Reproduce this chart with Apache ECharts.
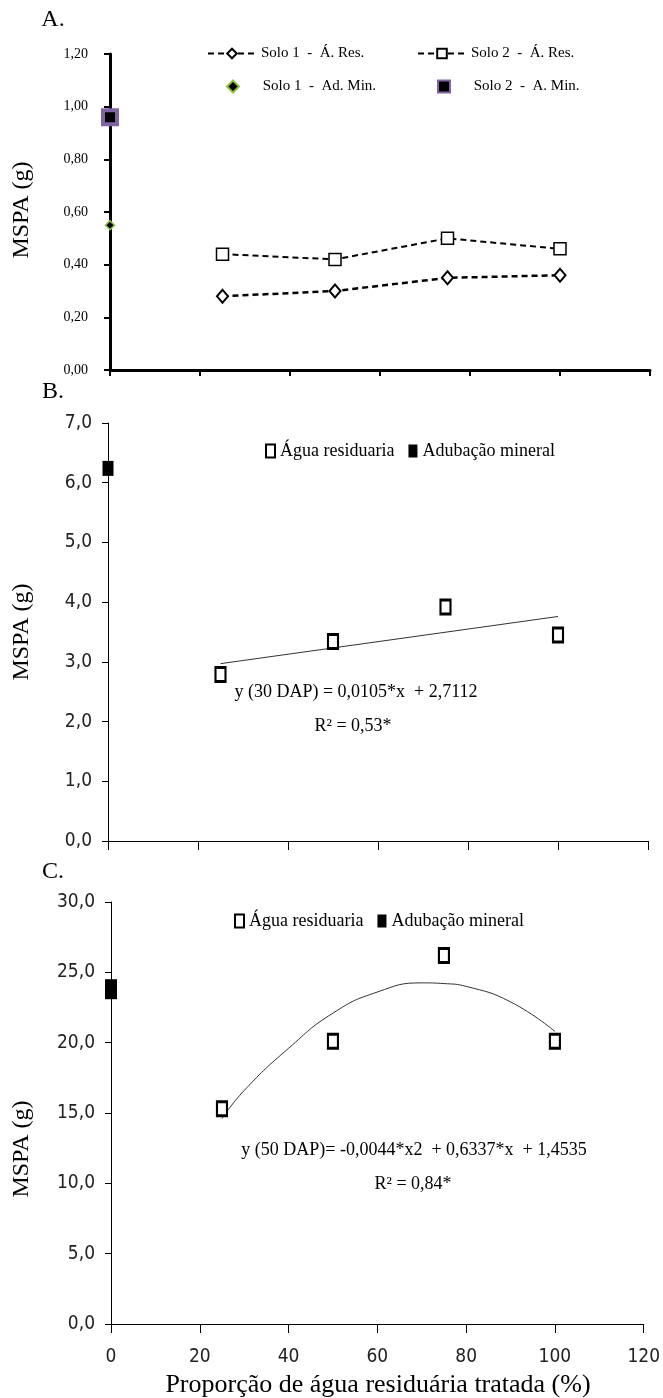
<!DOCTYPE html>
<html>
<head>
<meta charset="utf-8">
<script src="https://cdn.jsdelivr.net/npm/echarts@6/dist/echarts.min.js"></script>
<style>
  html, body { margin: 0; background: #fff; }
  #chart { width: 663px; height: 1398px; }
</style>
</head>
<body>
<div id="chart"></div>
<script>
// doses de agua residuaria (%)
const doses = [25, 50, 75, 100];

// painel A
const solo1Res = [0.28, 0.30, 0.35, 0.36];
const solo2Res = [0.44, 0.42, 0.50, 0.46];
const solo1Min = [[0, 0.55]];
const solo2Min = [[0, 0.96]];

// painel B (30 DAP)
const aguaB = [2.79, 3.34, 3.92, 3.45];
const mineralB = [[0, 6.24]];
const trendBx = [25, 100];
const trendBy = [2.97, 3.76];

// painel C (50 DAP)
const aguaC = [15.3, 20.1, 26.2, 20.1];
const mineralC = [[0, 23.8]];
const trendCx = [25, 30, 40, 50, 60, 70, 75, 80, 90, 100];
const trendCy = [14.6, 16.6, 19.6, 22.1, 23.6, 24.25, 24.2, 24.0, 22.9, 20.8];

const xTicks = [0, 20, 40, 60, 80, 100, 120];

const pair = (xs, ys) => xs.map((x, i) => [x, ys[i]]);
const comma = (d) => (v) => v.toFixed(d).replace('.', ',');

const serif = '"Liberation Serif", "Times New Roman", serif';
const narrow = '"Liberation Sans Narrow", "Arial Narrow", "DejaVu Sans Condensed", sans-serif';

const chart = echarts.init(document.getElementById('chart'));

function xAxisFor(gridIndex, thick, showLabels) {
  return {
    type: 'value',
    gridIndex: gridIndex,
    min: xTicks[0],
    max: xTicks[xTicks.length - 1],
    interval: 20,
    splitLine: { show: false },
    axisLine: { onZero: false, lineStyle: { color: '#000', width: thick ? 3 : 1 } },
    axisTick: { show: true, length: thick ? 6 : 9, lineStyle: { color: '#000', width: thick ? 2 : 1 } },
    axisLabel: {
      show: showLabels,
      margin: 24,
      fontFamily: narrow,
      fontSize: 19,
      color: '#222'
    }
  };
}

function yAxisFor(gridIndex, max, interval, thick) {
  return {
    type: 'value',
    gridIndex: gridIndex,
    min: 0,
    max: max,
    interval: interval,
    splitLine: { show: false },
    axisLine: { show: true, onZero: false, lineStyle: { color: '#000', width: thick ? 3 : 1 } },
    axisTick: { show: true, length: 6, lineStyle: { color: '#000', width: thick ? 2 : 1 } },
    axisLabel: thick
      ? { margin: 22, fontFamily: serif, fontSize: 14, color: '#000', formatter: comma(2) }
      : { margin: 16, fontFamily: narrow, fontSize: 19, color: '#222', formatter: comma(1) }
  };
}

const squareOpen = {
  type: 'scatter',
  symbol: 'rect',
  symbolSize: [10, 14],
  itemStyle: { color: '#fff', borderColor: '#000', borderWidth: 2.5, opacity: 1 },
  clip: false
};

function label(text, x, y, size, rotation) {
  return {
    type: 'text',
    x: x,
    y: y,
    rotation: rotation || 0,
    style: {
      text: text,
      font: size + 'px ' + serif,
      fill: '#000',
      align: 'center',
      verticalAlign: 'middle'
    }
  };
}

const legendA = (left, top, width, names, pad) => ({
  orient: 'vertical', left: left, top: top,
  itemWidth: width, itemHeight: 12,
  textStyle: { fontFamily: serif, fontSize: 15, color: '#000' },
  formatter: (name) => pad + name,
  data: names
});

chart.setOption({
  animation: false,
  backgroundColor: '#fff',
  grid: [
    { left: 110, width: 540, top: 54, height: 316 },
    { left: 108, width: 540, top: 423, height: 418 },
    { left: 111, width: 538, top: 902, height: 422 }
  ],
  xAxis: [xAxisFor(0, true, false), xAxisFor(1, false, false), xAxisFor(2, false, true)],
  yAxis: [yAxisFor(0, 1.2, 0.2, true), yAxisFor(1, 7, 1, false), yAxisFor(2, 30, 5, false)],
  legend: [
    legendA(202, 41, 48, ['Solo 1  -  Á. Res.'], ''),
    legendA(412, 41, 48, ['Solo 2  -  Á. Res.'], ''),
    legendA(221, 74, 12, ['Solo 1  -  Ad. Min.'], '     '),
    legendA(432, 74, 12, ['Solo 2  -  A. Min.'], '     '),
    {
      left: 260, top: 437, itemGap: 14,
      itemWidth: 9, itemHeight: 13,
      textStyle: { fontFamily: serif, fontSize: 18, color: '#000' },
      data: ['Água residuaria', 'Adubação mineral']
    },
    {
      left: 229, top: 907, itemGap: 14,
      itemWidth: 9, itemHeight: 13,
      textStyle: { fontFamily: serif, fontSize: 18, color: '#000' },
      data: ['Água residuaria', 'Adubação mineral']
    }
  ],
  series: [
    {
      name: 'Solo 1  -  Á. Res.',
      type: 'line',
      xAxisIndex: 0, yAxisIndex: 0,
      data: pair(doses, solo1Res),
      symbol: 'diamond',
      symbolSize: [11, 13],
      itemStyle: { color: '#fff', borderColor: '#000', borderWidth: 2 },
      lineStyle: { color: '#000', width: 2.5, type: [6, 4] }
    },
    {
      name: 'Solo 2  -  Á. Res.',
      type: 'line',
      xAxisIndex: 0, yAxisIndex: 0,
      data: pair(doses, solo2Res),
      symbol: 'rect',
      symbolSize: 12,
      itemStyle: { color: '#fff', borderColor: '#000', borderWidth: 1.5 },
      lineStyle: { color: '#000', width: 2, type: [6, 4] }
    },
    {
      name: 'Solo 1  -  Ad. Min.',
      type: 'scatter',
      xAxisIndex: 0, yAxisIndex: 0,
      data: solo1Min,
      symbol: 'diamond',
      symbolSize: 9,
      clip: false,
      itemStyle: { color: '#000', borderColor: '#8cc43c', borderWidth: 1.5, opacity: 1 }
    },
    {
      name: 'Solo 2  -  A. Min.',
      type: 'scatter',
      xAxisIndex: 0, yAxisIndex: 0,
      data: solo2Min,
      symbol: 'rect',
      symbolSize: 14,
      clip: false,
      itemStyle: { color: '#000', borderColor: '#8064a2', borderWidth: 4, opacity: 1 }
    },
    Object.assign({}, squareOpen, {
      name: 'Água residuaria', xAxisIndex: 1, yAxisIndex: 1, data: pair(doses, aguaB)
    }),
    {
      name: 'Adubação mineral',
      type: 'scatter',
      xAxisIndex: 1, yAxisIndex: 1,
      data: mineralB,
      symbol: 'rect',
      symbolSize: [11, 15],
      clip: false,
      itemStyle: { color: '#000', opacity: 1 }
    },
    {
      name: 'trendB',
      type: 'line',
      xAxisIndex: 1, yAxisIndex: 1,
      data: pair(trendBx, trendBy),
      showSymbol: false,
      z: 1,
      lineStyle: { color: '#333', width: 1 }
    },
    Object.assign({}, squareOpen, {
      name: 'Água residuaria', xAxisIndex: 2, yAxisIndex: 2, data: pair(doses, aguaC)
    }),
    {
      name: 'Adubação mineral',
      type: 'scatter',
      xAxisIndex: 2, yAxisIndex: 2,
      data: mineralC,
      symbol: 'rect',
      symbolSize: [12, 20],
      clip: false,
      itemStyle: { color: '#000', opacity: 1 }
    },
    {
      name: 'trendC',
      type: 'line',
      xAxisIndex: 2, yAxisIndex: 2,
      data: pair(trendCx, trendCy),
      smooth: true,
      showSymbol: false,
      z: 1,
      lineStyle: { color: '#333', width: 1 }
    }
  ],
  graphic: [
    label('A.', 53, 20, 24),
    label('B.', 53, 392, 24),
    label('C.', 53, 872, 24),
    label('MSPA (g)', 22, 210, 24, Math.PI / 2),
    label('MSPA (g)', 22, 632, 24, Math.PI / 2),
    label('MSPA (g)', 22, 1149, 24, Math.PI / 2),
    label('y (30 DAP) = 0,0105*x  + 2,7112', 356, 692, 18),
    label('R² = 0,53*', 353, 726, 18),
    label('y (50 DAP)= -0,0044*x2  + 0,6337*x  + 1,4535', 414, 1150, 18),
    label('R² = 0,84*', 413, 1184, 18),
    label('Proporção de água residuária tratada (%)', 378, 1385, 26)
  ]
});
</script>
</body>
</html>
